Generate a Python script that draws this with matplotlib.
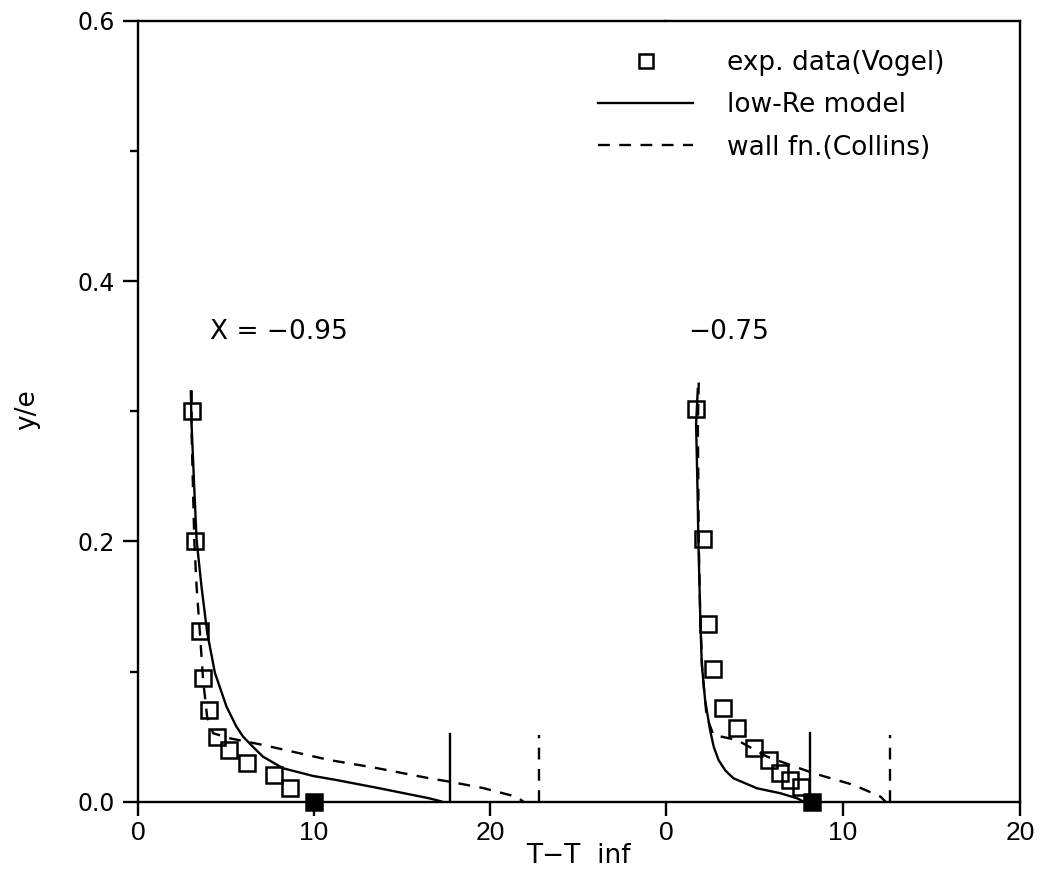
import matplotlib
matplotlib.use("Agg")
import matplotlib.pyplot as plt
from matplotlib.lines import Line2D
from matplotlib.ticker import MultipleLocator

plt.rcParams['font.family'] = ['DejaVu Sans']

# ---------------- data ----------------
# Station X = -0.95
T1_exp = [3.08, 3.25, 3.51, 3.67, 4.02, 4.50, 5.16, 6.20, 7.73, 8.66]
y1_exp = [0.300, 0.200, 0.131, 0.095, 0.0705, 0.050, 0.040, 0.030, 0.0205, 0.0103]
T1_wall_exp = [10.0]
y1_wall_exp = [0.0]

T1_low = [3.00, 3.04, 3.20, 3.33, 3.61, 3.93, 4.37, 5.03, 5.59, 5.97, 6.54, 7.10, 8.24, 9.94, 11.26, 13.72, 16.55, 17.3]
y1_low = [0.316, 0.291, 0.240, 0.201, 0.165, 0.130, 0.099, 0.073, 0.0577, 0.050, 0.042, 0.0346, 0.0257, 0.0198, 0.0167, 0.0103, 0.0026, 0.0]

T1_wf = [3.05, 3.04, 3.20, 3.33, 3.51, 3.70, 3.93, 4.27, 5.22, 7.10, 10.88, 13.5, 16.55, 17.7, 19.6, 21.5, 21.9]
y1_wf = [0.316, 0.286, 0.200, 0.165, 0.131, 0.0935, 0.065, 0.0526, 0.0487, 0.0436, 0.032, 0.026, 0.018, 0.0154, 0.0105, 0.0038, 0.0]

T1_vline_low, h1_vline_low = 17.7, 0.052
T1_vline_wf, h1_vline_wf = 22.8, 0.051

# Station X = -0.75
T2_exp = [1.70, 2.11, 2.40, 2.65, 3.21, 4.01, 4.95, 5.84, 6.42, 7.03, 7.65]
y2_exp = [0.302, 0.2017, 0.1366, 0.1018, 0.0718, 0.0564, 0.041, 0.032, 0.0218, 0.0167, 0.0115]
T2_wall_exp = [8.26]
y2_wall_exp = [0.0]

T2_low = [1.80, 1.70, 1.78, 1.83, 1.93, 2.02, 2.21, 2.49, 2.70, 2.97, 3.35, 3.81, 5.14, 6.46, 7.41, 7.78]
y2_low = [0.318, 0.290, 0.240, 0.200, 0.145, 0.106, 0.078, 0.055, 0.042, 0.032, 0.024, 0.018, 0.0103, 0.0065, 0.0026, 0.0]

T2_wf = [1.85, 1.80, 1.85, 1.93, 2.05, 2.30, 2.68, 4.01, 5.71, 8.35, 10.62, 12.13, 12.4]
y2_wf = [0.322, 0.290, 0.200, 0.145, 0.100, 0.065, 0.0513, 0.0474, 0.0346, 0.0218, 0.0128, 0.0038, 0.0]

T2_vline_low, h2_vline_low = 8.12, 0.0526
T2_vline_wf, h2_vline_wf = 12.66, 0.051

x_ticks = [0, 10, 20]
y_ticks = [0.0, 0.2, 0.4, 0.6]
y_tick_labels = ['0.0', '0.2', '0.4', '0.6']
station_labels = ['X = \u22120.95', '\u22120.75']
legend_labels = ['exp. data(Vogel)', 'low-Re model', 'wall fn.(Collins)']

# ---------------- figure ----------------
W, H = 1041, 882
fig = plt.figure(figsize=(W / 100, H / 100), dpi=100)
bottom = 1 - 801.7 / H
height = (801.7 - 20.7) / H
ax1 = fig.add_axes([138 / W, bottom, (666 - 138) / W, height])
ax2 = fig.add_axes([666 / W, bottom, (1020 - 666) / W, height], sharey=ax1)

lw = 1.7
dash = (0, (5, 4))
ms = 12
mew = 1.8

for ax, Te, ye, Tw, yw, Tl, yl, Tf, yf, vl, hl, vf, hf in [
    (ax1, T1_exp, y1_exp, T1_wall_exp, y1_wall_exp, T1_low, y1_low, T1_wf, y1_wf,
     T1_vline_low, h1_vline_low, T1_vline_wf, h1_vline_wf),
    (ax2, T2_exp, y2_exp, T2_wall_exp, y2_wall_exp, T2_low, y2_low, T2_wf, y2_wf,
     T2_vline_low, h2_vline_low, T2_vline_wf, h2_vline_wf),
]:
    ax.plot(Tl, yl, color='black', lw=lw, solid_capstyle='butt', solid_joinstyle='round')
    ax.plot(Tf, yf, color='black', lw=lw, linestyle=dash)
    ax.plot(Te, ye, linestyle='none', marker='s', ms=ms, mfc='none', mec='black', mew=mew)
    ax.plot(Tw, yw, linestyle='none', marker='s', ms=ms, mfc='black', mec='black', mew=mew,
            clip_on=False, zorder=5)
    ax.plot([vl, vl], [0, hl], color='black', lw=lw)
    ax.plot([vf, vf], [0, hf], color='black', lw=lw, linestyle=dash)
    ax.set_xticks(x_ticks)
    for lab in ax.get_xticklabels():
        lab.set_fontfamily(['Liberation Sans', 'DejaVu Sans'])
    ax.tick_params(axis='x', direction='out', length=10, width=1.7, labelsize=19, pad=4)
    for s in ax.spines.values():
        s.set_linewidth(1.7)

ax1.set_xlim(0, 30)
ax2.set_xlim(0, 20)
ax1.set_ylim(0, 0.6)
ax1.set_yticks(y_ticks)
ax1.set_yticklabels(y_tick_labels)
ax1.yaxis.set_minor_locator(MultipleLocator(0.1))
ax1.tick_params(axis='y', which='major', direction='out', length=11, width=1.7, labelsize=17, pad=6)
ax1.tick_params(axis='y', which='minor', direction='out', length=6, width=1.7)
ax1.spines['right'].set_visible(False)
ax2.spines['left'].set_visible(False)
ax2.tick_params(axis='y', which='both', left=False, labelleft=False)

ax1.text(4.08, 0.361, station_labels[0], fontsize=19, ha='left', va='center')
ax2.text(1.25, 0.361, station_labels[1], fontsize=19, ha='left', va='center')

fig.text(578 / W, 1 - 856 / H, 'T\u2212T  inf', fontsize=19, ha='center', va='center')
fig.text(27 / W, 1 - 410 / H, 'y/e', fontsize=19, ha='center', va='center', rotation=90)

handles = [
    Line2D([], [], linestyle='none', marker='s', ms=10, mfc='none', mec='black', mew=mew),
    Line2D([], [], color='black', lw=lw),
    Line2D([], [], color='black', lw=lw, linestyle=dash),
]
fig.legend(handles, legend_labels, loc='upper left', bbox_to_anchor=(598 / W, 1 - 50 / H),
           frameon=False, fontsize=19, handlelength=3.6, handletextpad=1.3,
           labelspacing=0.62, borderpad=0, borderaxespad=0)

fig.savefig('out.png', dpi=100)
